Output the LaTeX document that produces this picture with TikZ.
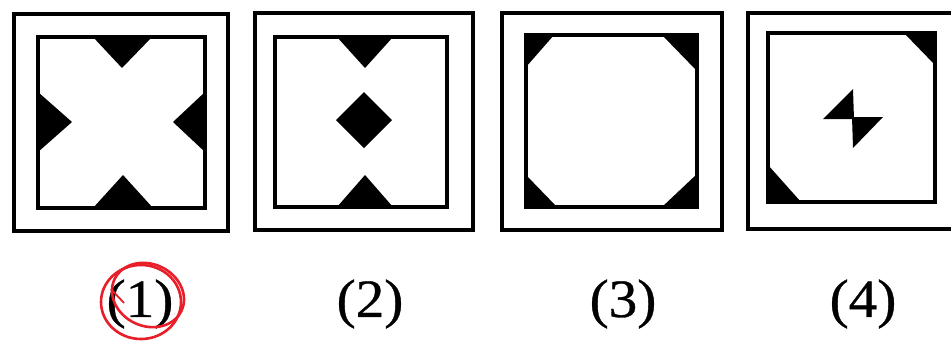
\documentclass[tikz,border=0pt]{standalone}
\usepackage{fontspec}
\setmainfont{Liberation Serif}
\newfontfamily\labfont[FakeBold=0.6]{Liberation Serif}
\definecolor{pen}{RGB}{232,30,40}
\begin{document}
\begin{tikzpicture}[x=1pt,y=-1pt,
  outerbox/.style={draw=black,line width=3.8pt,inner sep=0pt},
  innerbox/.style={draw=black,line width=3.3pt},
  blackfill/.style={fill=black,draw=none},
  lab/.style={font=\labfont\fontsize{54}{60}\selectfont,xscale=1.06,inner sep=0pt},
  penline/.style={draw=pen,line width=2.6pt}]
\useasboundingbox[fill=white] (0,0) rectangle (951,341);
% box 1
\node[outerbox,minimum width=214pt,minimum height=217pt] (o1) at (121,122.5) {};
\coordinate (i1a) at (38,37); \coordinate (i1b) at (205,208);
\fill[blackfill] (93,37) -- (152,37) -- (122,68) -- cycle;
\fill[blackfill] (93,208) -- (153,208) -- (123,175) -- cycle;
\fill[blackfill] (38,92) -- (38,152) -- (72,122) -- cycle;
\fill[blackfill] (205,92) -- (205,152) -- (173,122) -- cycle;
\draw[innerbox] (i1a) rectangle (i1b);
% box 2
\node[outerbox,minimum width=218pt,minimum height=217pt] (o2) at (364,121.5) {};
\coordinate (i2a) at (275,37); \coordinate (i2b) at (447,207);
\fill[blackfill] (337,37) -- (393,37) -- (365,68) -- cycle;
\fill[blackfill] (336,120) -- (364,92) -- (392,120) -- (364,148) -- cycle;
\fill[blackfill] (337,207) -- (393,207) -- (365,175) -- cycle;
\draw[innerbox] (i2a) rectangle (i2b);
% box 3
\node[outerbox,minimum width=220pt,minimum height=217pt] (o3) at (612,121.5) {};
\coordinate (i3a) at (526,35); \coordinate (i3b) at (697,207);
\fill[blackfill] (526,35) -- (554,35) -- (526,67) -- cycle;
\fill[blackfill] (662,35) -- (697,35) -- (697,71) -- cycle;
\fill[blackfill] (526,175) -- (526,207) -- (557,207) -- cycle;
\fill[blackfill] (662,207) -- (697,207) -- (697,174) -- cycle;
\draw[innerbox] (i3a) rectangle (i3b);
% box 4 (runs past the right edge)
\node[outerbox,minimum width=214pt,minimum height=216pt] (o4) at (855,121) {};
\coordinate (i4a) at (768,33); \coordinate (i4b) at (935,202);
\fill[blackfill] (904,33) -- (935,33) -- (935,65) -- cycle;
\fill[blackfill] (768,165) -- (768,202) -- (801,202) -- cycle;
\fill[blackfill] (853,89) -- (823,119) -- (854,119) -- cycle;
\fill[blackfill] (852,117) -- (883,117) -- (853,148) -- cycle;
\draw[innerbox] (i4a) rectangle (i4b);
% labels
\node[lab] (l1) at (140,304) {(1)};
\node[lab] (l2) at (370,304) {(2)};
\node[lab] (l3) at (623,304) {(3)};
\node[lab] (l4) at (863,304) {(4)};
% red pen circle round (1)
\draw[penline] (141,302) ellipse [x radius=40pt,y radius=37pt];
\draw[penline,rotate around={-25:(148,295)}] (148,295) ellipse [x radius=37pt,y radius=31pt];
\draw[penline,line width=1.8pt] (111,289) -- (124,303);
\end{tikzpicture}
\end{document}
